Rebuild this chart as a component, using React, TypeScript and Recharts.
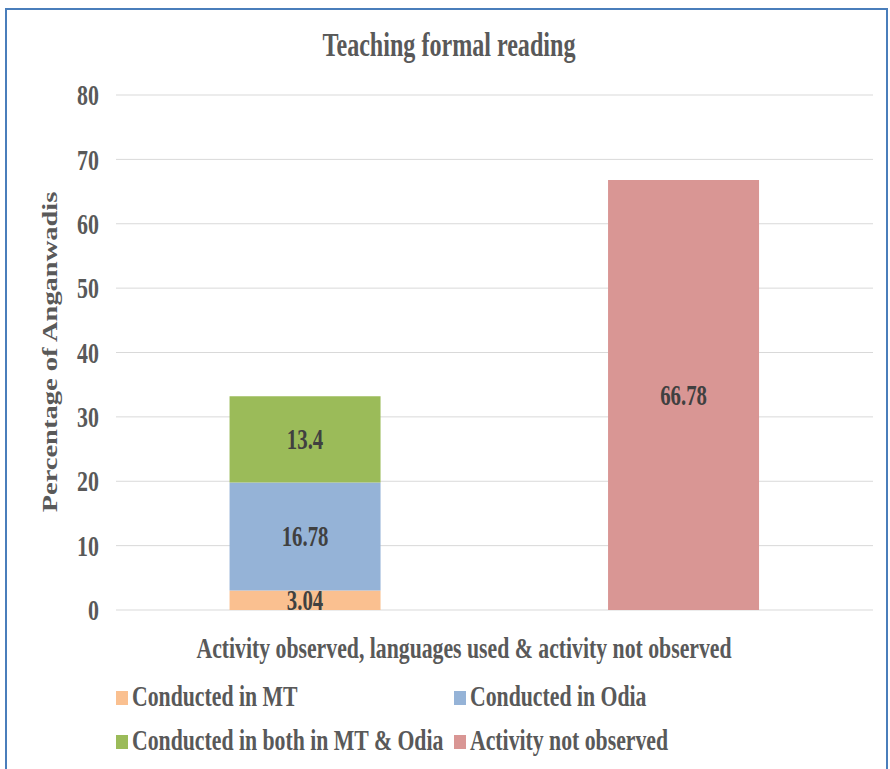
import { Bar, BarChart, CartesianGrid, LabelList, XAxis, YAxis } from "recharts";

const categories = ["Activity observed", "Activity not observed"];
const conductedMT = [3.04, null];
const conductedOdia = [16.78, null];
const conductedBoth = [13.4, null];
const notObserved = [null, 66.78];
const yTicks = [0, 10, 20, 30, 40, 50, 60, 70, 80];

const SERIES = [
  { key: "mt", name: "Conducted in MT", color: "#FAC090", values: conductedMT },
  { key: "odia", name: "Conducted in Odia", color: "#95B3D7", values: conductedOdia },
  { key: "both", name: "Conducted in both in MT & Odia", color: "#9BBB59", values: conductedBoth },
  { key: "notObs", name: "Activity not observed", color: "#D99694", values: notObserved },
];

const FONT = "'Liberation Serif', 'Times New Roman', serif";
const SQUEEZE = 0.73;
const TEXT = "#595959";

const data = categories.map((name, i) => {
  const row: Record<string, string | number | null> = { name };
  SERIES.forEach((s) => (row[s.key] = s.values[i]));
  return row;
});

function YTick(props: any) {
  const { x, y, payload } = props;
  return (
    <g transform={`translate(${x},${y})`}>
      <text
        transform={`scale(${SQUEEZE},1)`}
        textAnchor="end"
        dy="0.34em"
        fontFamily={FONT}
        fontWeight="bold"
        fontSize={30}
        fill={TEXT}
      >
        {payload.value}
      </text>
    </g>
  );
}

function BarValue(props: any) {
  const { x, y, width, height, value } = props;
  if (value == null) return null;
  return (
    <g transform={`translate(${x + width / 2},${y + height / 2})`}>
      <text
        transform={`scale(${SQUEEZE},1)`}
        textAnchor="middle"
        dy="0.34em"
        fontFamily={FONT}
        fontWeight="bold"
        fontSize={28.5}
        fill="#404040"
      >
        {value}
      </text>
    </g>
  );
}

// legend slots: two columns, two rows
const legendCols = [116, 454];
const legendRows = [706, 750];

export default function App() {
  return (
    <div style={{ position: "absolute", left: 0, top: 0, width: 890, height: 769, overflow: "hidden", background: "#fff" }}>
      <div
        style={{
          position: "absolute",
          left: 5,
          top: 8,
          width: 883,
          height: 800,
          border: "2px solid #4A7EBB",
          boxSizing: "border-box",
        }}
      />
      <div style={{ position: "absolute", left: 0, top: 0 }}>
        <BarChart
          width={890}
          height={769}
          data={data}
          margin={{ top: 95, right: 17, bottom: 159, left: 36 }}
          barCategoryGap="30%"
        >
          <CartesianGrid vertical={false} stroke="#D9D9D9" />
          <XAxis dataKey="name" hide />
          <YAxis
            width={80}
            domain={[0, 80]}
            ticks={yTicks}
            interval={0}
            axisLine={false}
            tickLine={false}
            tickSize={0}
            tickMargin={17}
            tick={<YTick />}
          />
          {SERIES.map((s) => (
            <Bar key={s.key} dataKey={s.key} name={s.name} stackId="a" fill={s.color} isAnimationActive={false}>
              <LabelList dataKey={s.key} content={<BarValue />} />
            </Bar>
          ))}
        </BarChart>
      </div>
      <svg
        width={890}
        height={769}
        style={{ position: "absolute", left: 0, top: 0, pointerEvents: "none" }}
      >
        <text
          transform={`translate(449,56) scale(${SQUEEZE},1)`}
          textAnchor="middle"
          fontFamily={FONT}
          fontWeight="bold"
          fontSize={33}
          fill={TEXT}
        >
          Teaching formal reading
        </text>
        <text
          transform={`translate(57,352) scale(${SQUEEZE},1) rotate(-90)`}
          textAnchor="middle"
          fontFamily={FONT}
          fontWeight="bold"
          fontSize={28.5}
          fill={TEXT}
        >
          Percentage of Anganwadis
        </text>
        <text
          transform={`translate(464,658) scale(${SQUEEZE},1)`}
          textAnchor="middle"
          fontFamily={FONT}
          fontWeight="bold"
          fontSize={29.8}
          fill={TEXT}
        >
          Activity observed, languages used &amp; activity not observed
        </text>
        {SERIES.map((s, i) => {
          const cx = legendCols[i % 2];
          const by = legendRows[Math.floor(i / 2)];
          return (
            <g key={s.key}>
              <rect x={cx} y={by - 15} width={12} height={14} fill={s.color} />
              <text
                transform={`translate(${cx + 16},${by}) scale(${SQUEEZE},1)`}
                fontFamily={FONT}
                fontWeight="bold"
                fontSize={29.8}
                fill={TEXT}
              >
                {s.name}
              </text>
            </g>
          );
        })}
      </svg>
    </div>
  );
}
